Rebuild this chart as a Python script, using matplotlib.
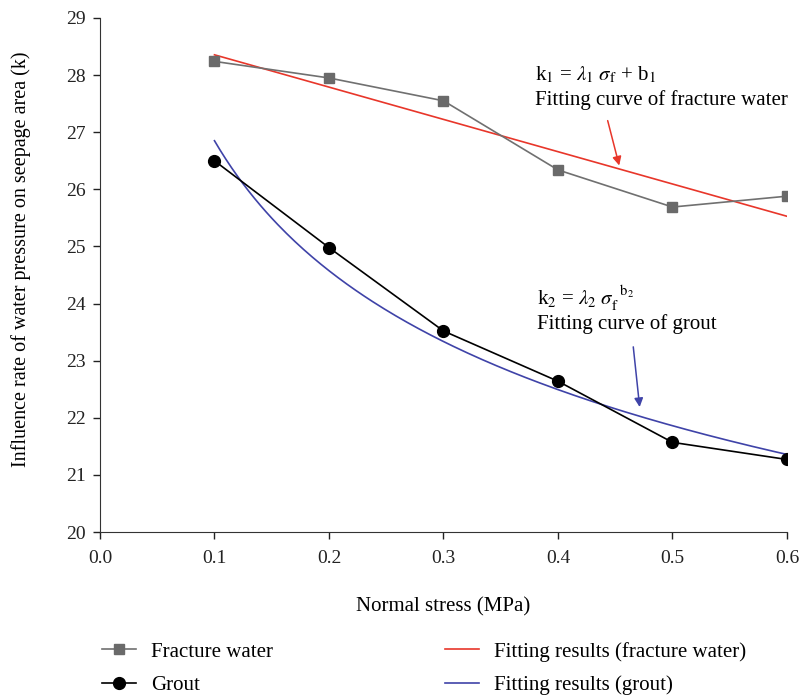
import numpy as np
import matplotlib
matplotlib.use('Agg')
import matplotlib.pyplot as plt

plt.rcParams['font.family'] = ['Liberation Serif', 'DejaVu Serif']
plt.rcParams['mathtext.fontset'] = 'stix'

# data
stress = [0.1, 0.2, 0.3, 0.4, 0.5, 0.6]
fracture_water = [28.24, 27.95, 27.55, 26.34, 25.69, 25.88]
grout = [26.50, 24.98, 23.52, 22.64, 21.57, 21.27]

x_ticks = [0.0, 0.1, 0.2, 0.3, 0.4, 0.5, 0.6]
y_ticks = [20, 21, 22, 23, 24, 25, 26, 27, 28, 29]

# fitting curves: linear for fracture water, power law for grout
xs = np.linspace(0.1, 0.6, 200)
k1, b1 = np.polyfit(stress, fracture_water, 1)
b2, lnl2 = np.polyfit(np.log(stress), np.log(grout), 1)
fit_fw = k1 * xs + b1
fit_gr = np.exp(lnl2) * xs ** b2

fig = plt.figure(figsize=(8.01, 6.97), dpi=100)
ax = fig.add_axes([0.1248, 0.2367, 0.8577, 0.7375])

h1, = ax.plot(stress, fracture_water, color='#707070', lw=1.2, marker='s', ms=7.5,
              mfc='#6a6a6a', mec='#6a6a6a', label='Fracture water', zorder=3)
h2, = ax.plot(stress, grout, color='black', lw=1.2, marker='o', ms=8.5,
              label='Grout', zorder=3)
h3, = ax.plot(xs, fit_fw, color='#e8362a', lw=1.2, label='Fitting results (fracture water)')
h4, = ax.plot(xs, fit_gr, color='#3f43a8', lw=1.2, label='Fitting results (grout)')

ax.text(0.380, 28.0, r'k$_1$ = $\lambda_1\ \sigma_{\rm f}$ + b$_1$', fontsize=15, va='center')
ax.text(0.380, 27.56, 'Fitting curve of fracture water', fontsize=15, va='center')
ax.text(0.3817, 24.1, r'k$_2$ = $\lambda_2\ \sigma_{\rm f}^{\ \ {\rm b}_2}$', fontsize=15, va='center')
ax.text(0.3817, 23.64, 'Fitting curve of grout', fontsize=15, va='center')

ax.annotate('', xy=(0.4541, 26.37), xytext=(0.4428, 27.25),
            arrowprops=dict(arrowstyle='-|>', color='#e8362a', lw=1.1, mutation_scale=13))
ax.annotate('', xy=(0.4716, 22.14), xytext=(0.4655, 23.29),
            arrowprops=dict(arrowstyle='-|>', color='#3f43a8', lw=1.1, mutation_scale=13))

ax.set_xlim(0.0, 0.6)
ax.set_ylim(20, 29)
ax.set_xticks(x_ticks)
ax.set_xticklabels(['%.1f' % v for v in x_ticks])
ax.set_yticks(y_ticks)
ax.tick_params(direction='out', length=5, width=1, labelsize=14, colors='#222222')
ax.tick_params(axis='x', pad=8)
ax.tick_params(axis='y', pad=5)
for s in ['top', 'right']:
    ax.spines[s].set_visible(False)
for s in ['left', 'bottom']:
    ax.spines[s].set_color('#333333')

ax.set_xlabel('Normal stress (MPa)', fontsize=15, labelpad=22)
ax.set_ylabel('Influence rate of water pressure on seepage area (k)', fontsize=14.5, labelpad=12)
ax.yaxis.set_label_coords(-0.1, 0.53)

fig.legend(handles=[h1, h2, h3, h4], ncol=2, frameon=False, fontsize=15,
           loc='lower left', bbox_to_anchor=(0.104, -0.024), columnspacing=8.25,
           handlelength=1.65, handletextpad=0.7, labelspacing=0.65)

fig.savefig('out.png', dpi=100)
